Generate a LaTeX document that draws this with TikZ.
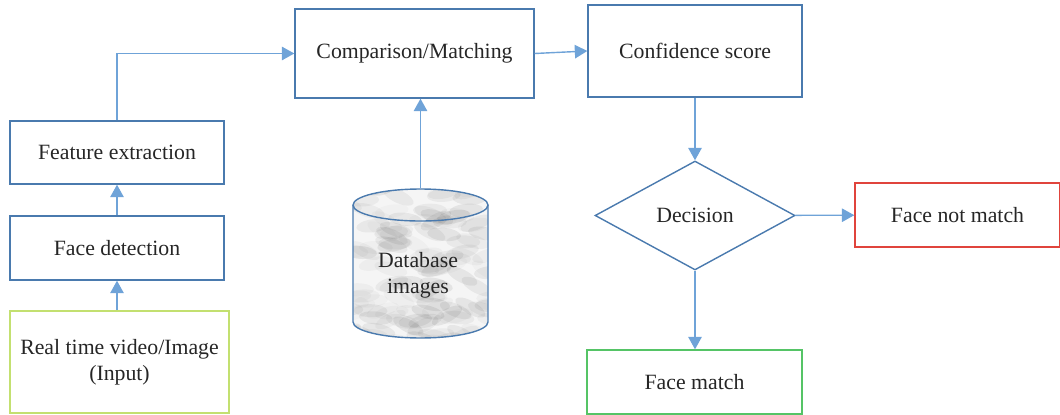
\documentclass[tikz,border=0pt]{standalone}
\usepackage{fontspec}
\setmainfont{Liberation Serif}
\usetikzlibrary{arrows.meta,shapes.geometric}
\definecolor{boxblue}{HTML}{4A7AAE}
\definecolor{arrblue}{HTML}{6FA3D8}
\definecolor{inlime}{HTML}{C3E070}
\definecolor{okgreen}{HTML}{55C466}
\definecolor{nored}{HTML}{E0443C}
\tikzset{
    box/.style={draw=boxblue, line width=0.8pt, align=center, inner sep=2pt,
        font=\fontsize{12.4}{15}\selectfont, text=black!85},
    arr/.style={draw=arrblue, line width=0.8pt, -{Triangle[length=0.25cm,width=0.27cm]}}
}
\begin{document}
\begin{tikzpicture}[x=0.02cm, y=-0.02cm]
        \useasboundingbox (0,0) rectangle (1060,415);
        \pgfmathsetseed{11}
        \node (input) [box, draw=inlime, minimum width=4.38cm, minimum height=2.04cm] at (119.5,362) {Real time video/Image\\(Input)};
        \node (facedet) [box, minimum width=4.28cm, minimum height=1.28cm] at (117,248) {Face detection};
        \node (featext) [box, minimum width=4.28cm, minimum height=1.26cm] at (117,152.5) {Feature extraction};
        \node (compare) [box, minimum width=4.78cm, minimum height=1.78cm] at (414.5,53.5) {Comparison/Matching};
        \node (confid) [box, minimum width=4.28cm, minimum height=1.84cm] at (695,51) {Confidence score};
        \node (decision) [box, diamond, inner sep=0pt, minimum width=4cm, minimum height=2.18cm] at (695,215.5) {Decision};
        \node (notmatch) [box, draw=nored, minimum width=4.1cm, minimum height=1.28cm] at (957.5,215) {Face not match};
        \node (facematch) [box, draw=okgreen, minimum width=4.3cm, minimum height=1.28cm] at (694.5,382) {Face match};
        % database cylinder, marble look
        \begin{scope}[shift={(420.5,263.5)}, x=1cm, y=1cm]
            \begin{scope}
                \clip (-1.35,1.17) -- (-1.35,-1.17) arc[start angle=180, end angle=360, x radius=1.35, y radius=0.32]
                    -- (1.35,1.17) arc[start angle=0, end angle=180, x radius=1.35, y radius=0.32] -- cycle;
                \fill[gray!8] (-1.5,-1.6) rectangle (1.5,1.6);
                \foreach \i in {1,...,120} {
                    \pgfmathsetmacro{\bx}{3.0*rnd-1.5}
                    \pgfmathsetmacro{\by}{3.2*rnd-1.6}
                    \pgfmathsetmacro{\bo}{0.02+0.05*rnd}
                    \pgfmathsetmacro{\ba}{-30+60*rnd}
                    \fill[black, opacity=\bo, rotate around={\ba:(\bx,\by)}] (\bx,\by) ellipse (0.34 and 0.13);
                }
            \end{scope}
            \draw[boxblue, line width=0.8pt] (-1.35,1.17) -- (-1.35,-1.17) arc[start angle=180, end angle=360, x radius=1.35, y radius=0.32]
                -- (1.35,1.17);
            \draw[boxblue, line width=0.8pt] (0,1.17) ellipse (1.35 and 0.32);
        \end{scope}
        \coordinate (dbtop) at (420.5,188);
        \node (db) [box, draw=none] at (418,275) {Database\\images};
        \draw[arr] (input.north -| facedet.south) -- (facedet.south);
        \draw[arr] (facedet) -- (featext);
        \draw[arr] (featext.north) |- (compare.west);
        \draw[arr] (dbtop) -- (dbtop |- compare.south);
        \draw[arr] (compare.east) -- (confid.west);
        \draw[arr] (confid) -- (decision);
        \draw[arr] (decision) -- (notmatch);
        \draw[arr] (decision.south) -- (decision.south |- facematch.north);
    \end{tikzpicture}
\end{document}
